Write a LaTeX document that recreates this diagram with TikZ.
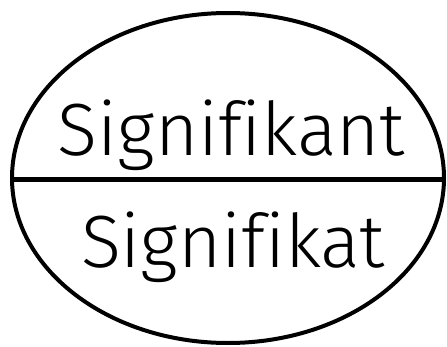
\documentclass[tikz,border=0pt]{standalone}
\usepackage{fontspec}
\setmainfont[Ligatures={NoCommon}]{Fira Sans Light}
\begin{document}
\begin{tikzpicture}[x=1pt,y=1pt,
  lbl/.style={anchor=base, inner sep=0pt, font=\fontsize{74}{80}\selectfont}]
\useasboundingbox (0,0) rectangle (447,346);
\draw[line width=4pt] (228,168) ellipse [x radius=216, y radius=165];
\coordinate (l) at (12,167);
\coordinate (r) at (444,167);
\draw[line width=5pt] (l) -- (r);
\node[lbl] (a) at (231.5,191) {Signifikant};
\node[lbl] (b) at (233,79) {Signifikat};
\end{tikzpicture}
\end{document}
